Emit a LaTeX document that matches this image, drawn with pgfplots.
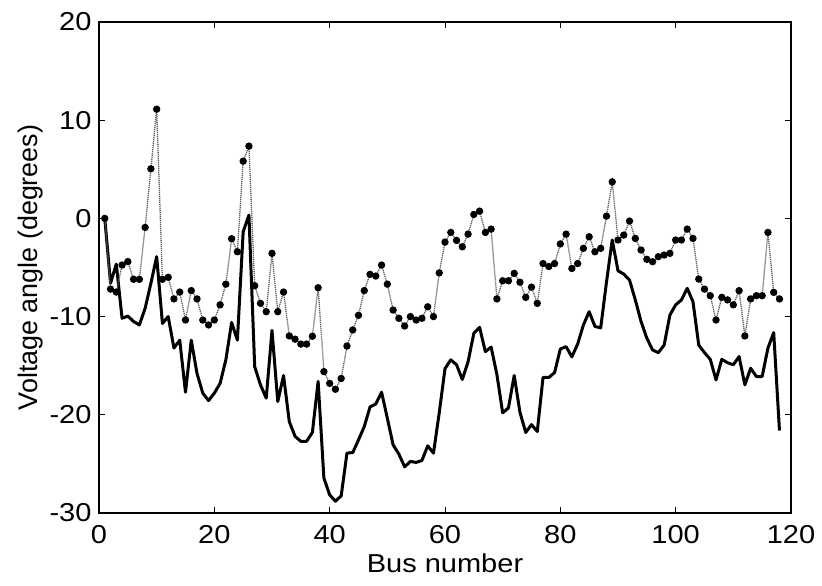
\documentclass[border=0pt]{standalone}
\usepackage{fontspec}
\setmainfont{Liberation Sans}[FakeStretch=1.12]
\newfontfamily\ylabfont{Liberation Sans}
\usepackage{pgfplots}
\usepackage{pgfplotstable}
\pgfplotsset{compat=1.18}
\pgfplotstableread{
n a
1 0
2 -7.2
3 -7.5
4 -4.75
5 -4.4
6 -6.2
7 -6.2
8 -0.92
9 5.05
10 11.12
11 -6.2
12 -6.0
13 -8.2
14 -7.5
15 -10.35
16 -7.35
17 -8.2
18 -10.35
19 -10.85
20 -10.35
21 -8.8
22 -6.7
23 -2.07
24 -3.4
25 5.83
26 7.36
27 -6.85
28 -8.65
29 -9.5
30 -3.56
31 -9.5
32 -7.5
33 -11.97
34 -12.3
35 -12.8
36 -12.8
37 -12.0
38 -7.06
39 -15.6
40 -16.8
41 -17.4
42 -16.3
43 -13.0
44 -11.36
45 -9.87
46 -7.35
47 -5.7
48 -5.87
49 -4.75
50 -6.7
51 -9.33
52 -10.17
53 -10.96
54 -10.0
55 -10.35
56 -10.17
57 -9.0
58 -10.0
59 -5.55
60 -2.41
61 -1.43
62 -2.24
63 -2.89
64 -1.6
65 0.4
66 0.74
67 -1.43
68 -1.09
69 -8.2
70 -6.35
71 -6.35
72 -5.6
73 -6.5
74 -8.04
75 -7.0
76 -8.65
77 -4.6
78 -4.9
79 -4.6
80 -2.6
81 -1.6
82 -5.1
83 -4.6
84 -3.05
85 -1.87
86 -3.4
87 -3.05
88 0.23
89 3.72
90 -2.2
91 -1.7
92 -0.27
93 -2.04
94 -3.22
95 -4.17
96 -4.41
97 -3.9
98 -3.73
99 -3.56
100 -2.2
101 -2.2
102 -1.09
103 -2.04
104 -6.18
105 -7.2
106 -7.87
107 -10.35
108 -8.04
109 -8.3
110 -8.8
111 -7.36
112 -11.97
113 -8.2
114 -7.87
115 -7.87
116 -1.43
117 -7.53
118 -8.2
}\dotted
\pgfplotstableread{
n a
1 0
2 -6.6
3 -4.65
4 -10.17
5 -9.95
6 -10.5
7 -10.85
8 -9.16
9 -6.6
10 -3.9
11 -10.7
12 -10.0
13 -13.2
14 -12.4
15 -17.7
16 -12.4
17 -15.8
18 -17.8
19 -18.55
20 -17.8
21 -16.8
22 -14.4
23 -10.6
24 -12.4
25 -1.36
26 0.34
27 -15.1
28 -16.95
29 -18.3
30 -11.4
31 -18.65
32 -16.0
33 -20.7
34 -22.2
35 -22.7
36 -22.7
37 -21.8
38 -16.6
39 -26.45
40 -28.15
41 -28.8
42 -28.25
43 -23.9
44 -23.85
45 -22.55
46 -21.2
47 -19.2
48 -18.9
49 -17.7
50 -20.35
51 -23.06
52 -24.0
53 -25.3
54 -24.75
55 -24.85
56 -24.65
57 -23.16
58 -23.9
59 -19.8
60 -15.3
61 -14.4
62 -14.9
63 -16.4
64 -14.6
65 -11.7
66 -11.1
67 -13.57
68 -13.1
69 -15.9
70 -19.8
71 -19.3
72 -16.0
73 -19.75
74 -21.8
75 -21.0
76 -21.7
77 -16.2
78 -16.2
79 -15.7
80 -13.3
81 -13.06
82 -14.1
83 -12.8
84 -10.85
85 -9.5
86 -11.0
87 -11.15
88 -6.5
89 -2.2
90 -5.33
91 -5.67
92 -6.28
93 -8.3
94 -10.5
95 -12.2
96 -13.4
97 -13.67
98 -12.9
99 -9.84
100 -8.8
101 -8.3
102 -7.12
103 -8.48
104 -12.9
105 -13.67
106 -14.35
107 -16.45
108 -14.35
109 -14.7
110 -14.9
111 -14.07
112 -16.95
113 -15.26
114 -16.1
115 -16.1
116 -13.2
117 -11.63
118 -21.6
}\solid
\begin{document}
\begin{tikzpicture}
\path[use as bounding box] (-99bp,-73bp) rectangle (723bp,513bp);
\begin{axis}[
  at={(0,0)}, anchor=south west,
  scale only axis, width=692bp, height=491bp,
  xmin=0, xmax=120, ymin=-30, ymax=20,
  xtick={0,20,...,120}, ytick={-30,-20,...,20},
  tick align=inside, major tick length=6bp,
  axis line style={line width=1.3bp},
  every tick/.style={black, line width=1bp},
  /pgf/number format/assume math mode=true,
  tick label style={font=\fontsize{26}{30}\selectfont},
  xticklabel style={yshift=-9bp},
  yticklabel style={xshift=-4bp},
  xlabel={Bus number}, ylabel={Voltage angle (degrees)},
  xlabel style={font=\fontsize{26}{30}\selectfont, yshift=-3bp},
  ylabel style={font=\ylabfont\fontsize{27}{30}\selectfont, yshift=0bp},
]
\addplot[black, line width=3bp, line join=round] table[x=n, y=a] {\solid};
\addplot[gray!75!black, line width=1.3bp, dash pattern=on 1.2bp off 0.8bp, mark=*, mark size=3bp,
  mark options={solid, fill=black, draw=black}] table[x=n, y=a] {\dotted};
\end{axis}
\end{tikzpicture}
\end{document}
